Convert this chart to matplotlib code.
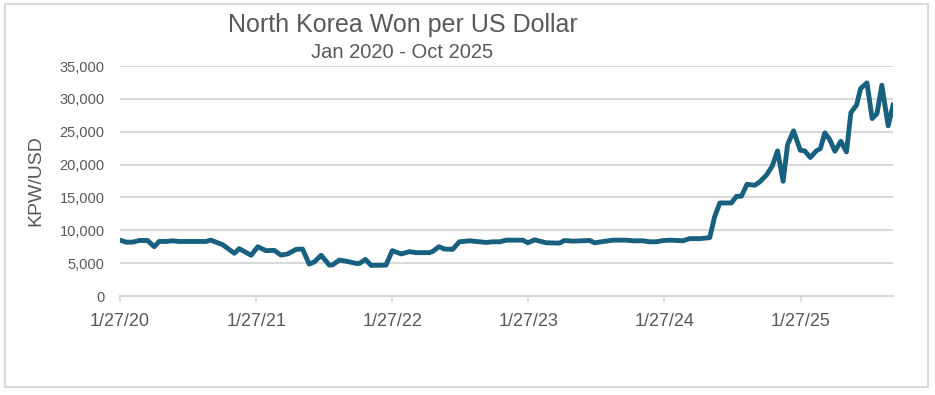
import pandas as pd
import matplotlib.pyplot as plt
import matplotlib.patches as mpatches

# KPW per USD
dates = [
    "2020-01-27", "2020-02-12", "2020-03-01", "2020-03-19", "2020-04-10", "2020-04-28",
    "2020-05-11", "2020-05-30", "2020-06-16", "2020-07-04", "2020-09-14", "2020-09-27",
    "2020-10-15", "2020-10-29", "2020-11-29", "2020-12-12", "2021-01-13", "2021-01-31",
    "2021-02-22", "2021-03-16", "2021-04-03", "2021-04-21", "2021-05-14", "2021-05-31",
    "2021-06-18", "2021-07-02", "2021-07-20", "2021-08-11", "2021-08-20", "2021-09-07",
    "2021-09-29", "2021-10-22", "2021-10-31", "2021-11-16", "2021-12-01", "2022-01-10",
    "2022-01-27", "2022-02-20", "2022-03-14", "2022-04-01", "2022-05-07", "2022-05-16",
    "2022-06-01", "2022-06-16", "2022-07-08", "2022-07-26", "2022-08-22", "2022-10-06",
    "2022-10-24", "2022-11-11", "2022-11-29", "2023-01-12", "2023-01-26", "2023-02-13",
    "2023-03-16", "2023-04-21", "2023-05-04", "2023-05-27", "2023-06-18", "2023-07-11",
    "2023-07-24", "2023-09-11", "2023-10-17", "2023-11-04", "2023-12-01", "2023-12-19",
    "2024-01-06", "2024-01-23", "2024-02-11", "2024-03-17", "2024-04-04", "2024-05-01",
    "2024-05-28", "2024-06-10", "2024-06-24", "2024-07-25", "2024-08-08", "2024-08-21",
    "2024-09-05", "2024-09-26", "2024-10-09", "2024-10-27", "2024-11-12", "2024-11-26",
    "2024-12-11", "2024-12-23", "2025-01-08", "2025-01-26", "2025-02-07", "2025-02-22",
    "2025-03-10", "2025-03-21", "2025-04-02", "2025-04-15", "2025-04-29", "2025-05-15",
    "2025-05-30", "2025-06-11", "2025-06-26", "2025-07-07", "2025-07-24", "2025-08-07",
    "2025-08-20", "2025-09-02", "2025-09-19", "2025-10-02",
]
kpw = [
    8500, 8200, 8200, 8450, 8450, 7500,
    8300, 8300, 8400, 8300, 8300, 8500,
    8100, 7800, 6500, 7200, 6200, 7500,
    6900, 6950, 6230, 6400, 7100, 7150,
    4860, 5200, 6200, 4700, 4750, 5470,
    5250, 4960, 4960, 5570, 4660, 4700,
    6900, 6400, 6750, 6600, 6600, 6800,
    7500, 7150, 7100, 8250, 8400, 8150,
    8250, 8250, 8500, 8500, 8100, 8550,
    8100, 8050, 8450, 8350, 8400, 8450,
    8100, 8500, 8500, 8400, 8400, 8250,
    8250, 8430, 8500, 8400, 8730, 8730,
    8880, 12030, 14160, 14160, 15180, 15180,
    17000, 16850, 17360, 18380, 19800, 22080,
    17460, 23050, 25130, 22180, 22080, 21070,
    22080, 22440, 24820, 23810, 22030, 23550,
    21930, 27920, 29030, 31570, 32440, 27000,
    27770, 32080, 25890, 29030,
]
tick_dates = ["2020-01-27", "2021-01-27", "2022-01-27", "2023-01-27", "2024-01-27", "2025-01-27"]
tick_labels = ["1/27/20", "1/27/21", "1/27/22", "1/27/23", "1/27/24", "1/27/25"]

plt.rcParams['font.family'] = ['Liberation Sans', 'DejaVu Sans']
grey = '#595959'
gridc = '#d9d9d9'

x = pd.to_datetime(dates)
fig = plt.figure(figsize=(9.35, 3.95), dpi=100)
ax = fig.add_axes([0.1283, 0.2506, 0.8268, 0.5823])

ax.plot(x, kpw, color='#17607f', linewidth=3.5, solid_joinstyle='round')

ax.set_ylim(0, 35000)
ax.set_yticks(range(0, 35001, 5000))
ax.set_yticklabels([f"{v:,}" for v in range(0, 35001, 5000)])
ax.set_xlim(x[0], x[-1])
ax.set_xticks(pd.to_datetime(tick_dates))
ax.set_xticklabels(tick_labels)

ax.grid(axis='y', color=gridc, linewidth=1.5)
ax.set_axisbelow(True)
for s in ['top', 'right', 'left']:
    ax.spines[s].set_visible(False)
ax.spines['bottom'].set_color(gridc)
ax.spines['bottom'].set_linewidth(1.5)
ax.tick_params(axis='y', length=0, pad=11, labelsize=10.5, labelcolor=grey)
ax.tick_params(axis='x', length=4, width=1.2, color=gridc, pad=8.5, labelsize=13, labelcolor=grey)

fig.text(0.4305, 0.918, "North Korea Won per US Dollar", ha='center', va='baseline',
         fontsize=18, color=grey)
fig.text(0.43, 0.852, "Jan 2020 - Oct 2025", ha='center', va='baseline',
         fontsize=14.5, color=grey)
fig.text(0.038, 0.543, "KPW/USD", rotation=90, ha='center', va='center',
         fontsize=14, color=grey)

fig.patches.append(mpatches.Rectangle((0.0053, 0.02), 0.987, 0.97, transform=fig.transFigure,
                                      fill=False, edgecolor=gridc, linewidth=1.5))

fig.savefig('out.png', dpi=100)
